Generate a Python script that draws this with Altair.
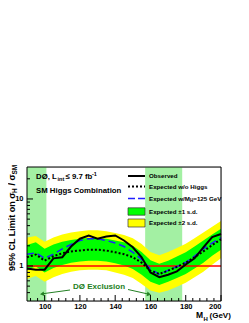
import altair as alt
import pandas as pd

# ---------------- data ----------------
mass = [90, 95, 100, 105, 110, 115, 120, 125, 130, 135, 140, 145,
        150, 155, 160, 165, 170, 175, 180, 185, 190, 195, 200]
observed = [0.92, 0.88, 0.88, 1.30, 1.35, 1.95, 2.55, 2.85, 2.55, 2.75, 2.85, 2.40,
            1.90, 1.35, 0.80, 0.68, 0.74, 0.83, 1.05, 1.30, 1.90, 2.70, 3.00]
exp_bkg = [1.35, 1.48, 1.20, 1.40, 1.55, 1.65, 1.70, 1.75, 1.75, 1.70, 1.60, 1.50,
           1.35, 1.12, 0.85, 0.76, 0.85, 0.97, 1.12, 1.35, 1.65, 2.05, 2.50]
exp_sig = [1.50, 1.57, 1.30, 1.50, 1.80, 2.10, 2.40, 2.55, 2.55, 2.40, 2.20, 1.95,
           1.60, 1.25, 0.90, 0.75, 0.86, 0.98, 1.13, 1.40, 1.80, 2.20, 2.65]
band1_hi = [2.05, 2.25, 1.80, 2.10, 2.30, 2.45, 2.55, 2.62, 2.62, 2.55, 2.40, 2.25,
            2.00, 1.62, 1.22, 1.08, 1.20, 1.38, 1.60, 1.95, 2.40, 2.95, 3.60]
band1_lo = [0.88, 0.98, 0.80, 0.93, 1.03, 1.12, 1.17, 1.20, 1.20, 1.17, 1.10, 1.02,
            0.90, 0.74, 0.58, 0.52, 0.58, 0.66, 0.76, 0.92, 1.12, 1.42, 1.75]
band2_hi = [2.65, 2.80, 2.30, 2.65, 2.95, 3.15, 3.30, 3.40, 3.40, 3.30, 3.10, 2.90,
            2.60, 2.12, 1.62, 1.45, 1.62, 1.85, 2.15, 2.60, 3.15, 3.85, 4.70]
band2_lo = [0.64, 0.71, 0.58, 0.68, 0.76, 0.82, 0.86, 0.88, 0.88, 0.86, 0.80, 0.74,
            0.66, 0.54, 0.43, 0.40, 0.43, 0.49, 0.56, 0.68, 0.82, 1.04, 1.30]
excl_lo = [90, 157]
excl_hi = [101, 178]
sm_line = [1.0]

x_major = [100, 120, 140, 160, 180, 200]
x_minor = [92, 96, 104, 108, 112, 116, 124, 128, 132, 136, 144, 148, 152, 156,
           164, 168, 172, 176, 184, 188, 192, 196]
y_major = [1, 10]
y_minor = [0.4, 0.5, 0.6, 0.7, 0.8, 0.9, 2, 3, 4, 5, 6, 7, 8, 9, 20]

legend_labels = ["Observed", "Expected w/o Higgs", "Expected w/M", "Expected \u00b11 s.d.",
                 "Expected \u00b12 s.d."]

# ---------------- layout / style ----------------
W, H = 194, 134
FONT = "Liberation Sans"
GREEN_TXT = "#238023"

df = pd.DataFrame(dict(m=mass, obs=observed, bkg=exp_bkg, sig=exp_sig,
                       b1lo=band1_lo, b1hi=band1_hi, b2lo=band2_lo, b2hi=band2_hi))
excl = pd.DataFrame(dict(lo=excl_lo, hi=excl_hi))
one = pd.DataFrame({"k": [0]})

xs = alt.Scale(domain=[90, 200], nice=False, zero=False)
ys = alt.Scale(type="log", domain=[0.3, 30], nice=False)
x_axis = alt.Axis(values=x_major, ticks=False, domain=False, grid=False, labelPadding=1,
                  labelFont=FONT, labelFontWeight="bold", labelFontSize=7.5,
                  labelColor="black", format="d")
y_axis = alt.Axis(values=y_major, ticks=False, domain=False, grid=False, labelPadding=4,
                  labelFont=FONT, labelFontWeight="bold", labelFontSize=7.5,
                  labelColor="black", format="~g")


def X(f):
    return alt.X(f, type="quantitative", scale=xs, axis=x_axis, title=None)


def Y(f):
    return alt.Y(f, type="quantitative", scale=ys, axis=y_axis, title=None)


layers = []

# exclusion stripes
layers.append(alt.Chart(excl).mark_rect(color="#a3f0a3").encode(
    x=X("lo"), x2="hi", y=alt.value(0), y2=alt.value(H)))
# bands
layers.append(alt.Chart(df).mark_area(color="#ffff00", opacity=1).encode(
    x=X("m"), y=Y("b2lo"), y2="b2hi"))
layers.append(alt.Chart(df).mark_area(color="#00ff00", opacity=1).encode(
    x=X("m"), y=Y("b1lo"), y2="b1hi"))
# SM line
layers.append(alt.Chart(pd.DataFrame({"v": sm_line})).mark_rule(color="#ff0000", strokeWidth=1.5).encode(
    y=Y("v")))
# curves
layers.append(alt.Chart(df).mark_line(color="#2020ff", strokeWidth=1.5, strokeDash=[7, 4]).encode(
    x=X("m"), y=Y("sig")))
layers.append(alt.Chart(df).mark_line(color="black", strokeWidth=2, strokeDash=[2, 2]).encode(
    x=X("m"), y=Y("bkg")))
layers.append(alt.Chart(df).mark_line(color="black", strokeWidth=2).encode(
    x=X("m"), y=Y("obs")))

# inward ticks
layers.append(alt.Chart(pd.DataFrame({"v": x_major})).mark_rule(color="black", strokeWidth=1).encode(
    x=X("v"), y=alt.value(H), y2=alt.value(H - 6)))
layers.append(alt.Chart(pd.DataFrame({"v": x_minor})).mark_rule(color="black", strokeWidth=1).encode(
    x=X("v"), y=alt.value(H), y2=alt.value(H - 3)))
layers.append(alt.Chart(pd.DataFrame({"v": y_major})).mark_rule(color="black", strokeWidth=1).encode(
    y=Y("v"), x=alt.value(0), x2=alt.value(6)))
layers.append(alt.Chart(pd.DataFrame({"v": y_minor})).mark_rule(color="black", strokeWidth=1).encode(
    y=Y("v"), x=alt.value(0), x2=alt.value(3)))

# frame
layers.append(alt.Chart(one).mark_rect(fillOpacity=0, stroke="black", strokeWidth=1).encode(
    x=alt.value(0), x2=alt.value(W), y=alt.value(0), y2=alt.value(H)))


def txt(s, x, y, size, color="black", angle=0, align="left", baseline="alphabetic"):
    kw = dict(text=s, font=FONT, fontWeight="bold", fontSize=size, color=color,
              align=align, baseline=baseline)
    if angle:
        kw["angle"] = angle
    return alt.Chart(one).mark_text(**kw).encode(x=alt.value(x), y=alt.value(y))


# top-left label
layers += [
    txt("D\u00d8, L", 9, 12, 7.8),
    txt("int", 30.5, 14, 5.5),
    txt("\u2264 9.7 fb", 38.5, 12, 7.8),
    txt("-1", 65, 8.5, 5.5),
    txt("SM Higgs Combination", 9, 25.5, 7.8),
]

# legend
LX0, LX1, LT = 101, 118, 122
rows = [9, 19.5, 31.5, 44.5, 56]
layers += [
    alt.Chart(one).mark_rule(color="black", strokeWidth=2).encode(
        x=alt.value(LX0), x2=alt.value(LX1), y=alt.value(rows[0])),
    alt.Chart(one).mark_rule(color="black", strokeWidth=2, strokeDash=[2, 2]).encode(
        x=alt.value(LX0), x2=alt.value(LX1), y=alt.value(rows[1])),
    alt.Chart(one).mark_rule(color="#2020ff", strokeWidth=1.5, strokeDash=[7, 3]).encode(
        x=alt.value(LX0), x2=alt.value(LX1), y=alt.value(rows[2])),
    alt.Chart(one).mark_rect(color="#00ff00", stroke="#333333", strokeWidth=0.7).encode(
        x=alt.value(LX0), x2=alt.value(LX1), y=alt.value(rows[3] - 3.7), y2=alt.value(rows[3] + 3.7)),
    alt.Chart(one).mark_rect(color="#ffff00", stroke="#333333", strokeWidth=0.7).encode(
        x=alt.value(LX0), x2=alt.value(LX1), y=alt.value(rows[4] - 4), y2=alt.value(rows[4] + 4)),
]
layers += [
    txt(legend_labels[0], LT, rows[0], 6.2, baseline="middle"),
    txt(legend_labels[1], LT, rows[1], 6.2, baseline="middle"),
    txt(legend_labels[2], LT, rows[2], 6.2, baseline="middle"),
    txt("H", LT + 41, rows[2] + 2.5, 4.5, baseline="middle"),
    txt("=125 GeV", LT + 44.3, rows[2], 6.2, baseline="middle"),
    txt(legend_labels[3], LT, rows[3], 6.2, baseline="middle"),
    txt(legend_labels[4], LT, rows[4], 6.2, baseline="middle"),
]

# exclusion annotation + arrows
layers += [
    txt("D\u00d8 Exclusion", 72, 120, 8, color=GREEN_TXT, align="center", baseline="middle"),
    alt.Chart(one).mark_rule(color=GREEN_TXT, strokeWidth=1).encode(
        x=alt.value(43), x2=alt.value(16), y=alt.value(123), y2=alt.value(126.7)),
    alt.Chart(one).mark_point(shape="triangle-left", filled=True, color=GREEN_TXT, size=22,
                              opacity=1, angle=352).encode(x=alt.value(15), y=alt.value(127)),
    alt.Chart(one).mark_rule(color=GREEN_TXT, strokeWidth=1).encode(
        x=alt.value(101), x2=alt.value(121), y=alt.value(122.5), y2=alt.value(127)),
    alt.Chart(one).mark_point(shape="triangle-right", filled=True, color=GREEN_TXT, size=22,
                              opacity=1, angle=13).encode(x=alt.value(122), y=alt.value(127.3)),
]

# axis titles (with sub-scripts as separate text pieces)
layers += [
    txt("M", 169, 151, 8.5),
    txt("H", 176.5, 153.5, 6),
    txt("(GeV)", 182.5, 151, 8),
    txt("95% CL Limit on \u03c3", -12.5, 104, 9, angle=270),
    txt("H", -10, 26, 6.5, angle=270),
    txt("/ \u03c3", -12.5, 18.5, 9, angle=270),
    txt("SM", -10, 7.5, 6.5, angle=270),
]

chart = alt.layer(*layers).properties(
    width=W, height=H,
    padding={"left": 19, "top": 159, "right": 14, "bottom": 22},
    autosize=alt.AutoSizeParams(type="none"),
).configure_view(stroke=None).configure(background="white")

chart.save("out.html", embed_options={"renderer": "svg", "actions": False})
